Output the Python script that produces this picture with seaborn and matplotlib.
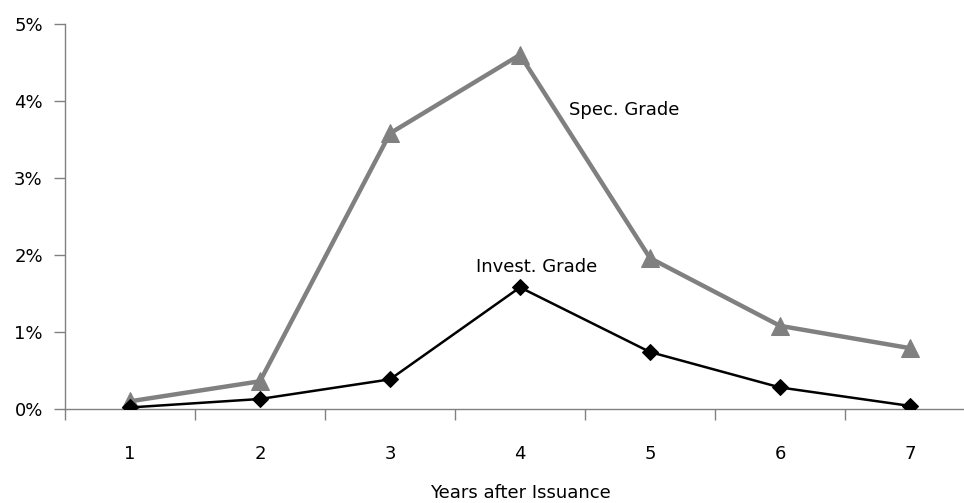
import numpy as np
import pandas as pd
import matplotlib
matplotlib.use("Agg")
import matplotlib.pyplot as plt
import seaborn as sns
from matplotlib.ticker import FixedLocator, FuncFormatter

# data (default rate, % per year after issuance)
years = [1, 2, 3, 4, 5, 6, 7]
spec_grade = [0.10, 0.36, 3.58, 4.60, 1.96, 1.08, 0.79]
invest_grade = [0.02, 0.13, 0.385, 1.58, 0.74, 0.28, 0.04]

sns.set_style("white")
plt.rcParams['font.family'] = ['Liberation Sans Narrow', 'DejaVu Sans Condensed', 'DejaVu Sans']
plt.rcParams['font.size'] = 13
plt.rcParams['text.color'] = 'black'
plt.rcParams['xtick.color'] = 'black'
plt.rcParams['ytick.color'] = 'black'
plt.rcParams['axes.labelcolor'] = 'black'

axis_grey = '#808080'

fig = plt.figure(figsize=(9.64, 5.03), dpi=100)
# axis runs a little past the right edge, like the original
ax = fig.add_axes([65 / 964, 1 - 409 / 503, 910 / 964, (409 - 24) / 503])

df = pd.DataFrame({'year': years, 'spec': spec_grade, 'invest': invest_grade})

sns.lineplot(data=df, x='year', y='spec', ax=ax, color='#808080', linewidth=3.2,
             marker='^', markersize=13, markeredgecolor='#808080', zorder=2)
sns.lineplot(data=df, x='year', y='invest', ax=ax, color='black', linewidth=1.8,
             marker='D', markersize=8, markeredgecolor='black', zorder=3)

ax.set_xlim(0.5, 7.5)
ax.set_ylim(0, 5)

for side in ['top', 'right']:
    ax.spines[side].set_visible(False)
for side in ['left', 'bottom']:
    ax.spines[side].set_color(axis_grey)
    ax.spines[side].set_linewidth(1.0)

ax.set_yticks(np.arange(0, 6, 1))
ax.yaxis.set_major_formatter(FuncFormatter(lambda v, p: f'{int(v)}%'))
ax.tick_params(axis='y', direction='out', length=8, width=1, color=axis_grey,
               labelcolor='black', labelsize=13, pad=8, left=True)

ax.set_xticks(years)
ax.set_xticklabels([str(y) for y in years])
ax.xaxis.set_minor_locator(FixedLocator(np.arange(0.5, 8, 1)))
ax.tick_params(axis='x', which='major', length=0, labelcolor='black', labelsize=13, pad=26)
ax.tick_params(axis='x', which='minor', direction='out', length=8, width=1,
               color=axis_grey, bottom=True)

ax.set_xlabel('Years after Issuance', fontsize=13, color='black')
ax.xaxis.set_label_coords((520 - 65) / 910, -0.195)
ax.set_ylabel('')

ax.text(4.38, 3.88, 'Spec. Grade', fontsize=13, ha='left', va='center', color='black')
ax.text(4.13, 1.84, 'Invest. Grade', fontsize=13, ha='center', va='center', color='black')

fig.savefig('out.png', dpi=100)
